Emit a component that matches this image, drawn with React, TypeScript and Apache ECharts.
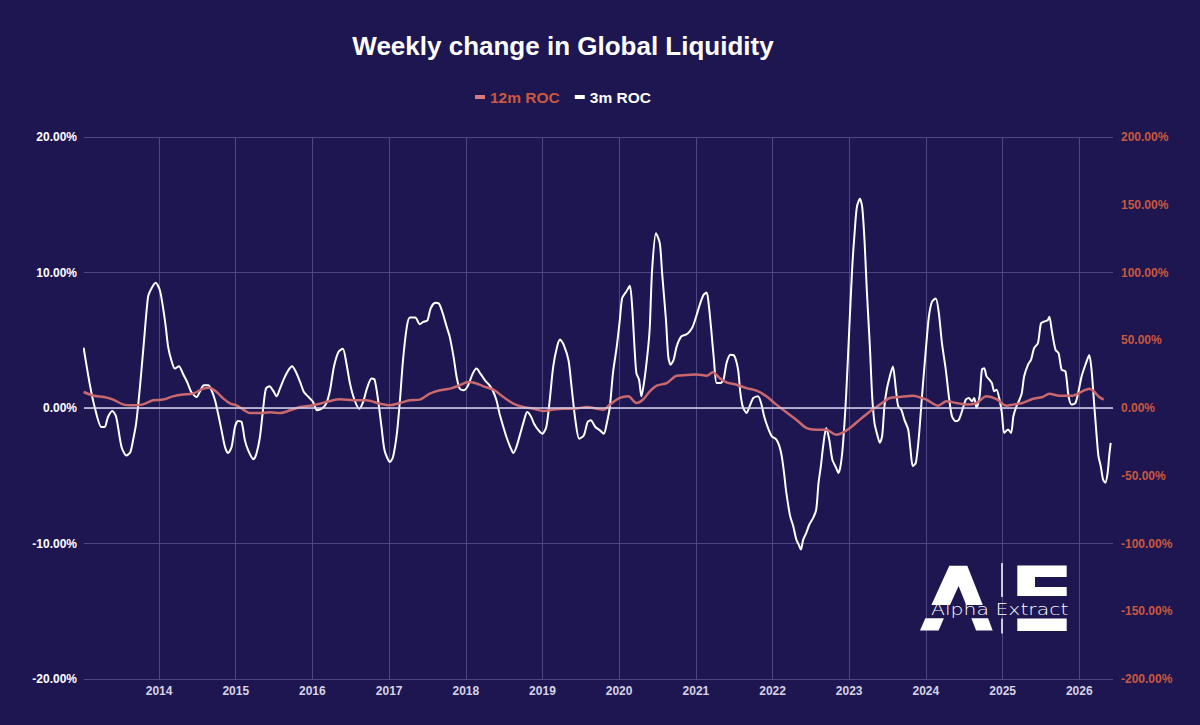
import React, { useEffect, useRef } from "react";
import * as echarts from "echarts";

const TITLE = "Weekly change in Global Liquidity";
const NAME_12M = "12m ROC";
const NAME_3M = "3m ROC";
const LOGO_TEXT = "Alpha Extract";

// x positions as decimal years, values in %
const YEARS_3M = [
  2013.015, 2013.094, 2013.159, 2013.246, 2013.29, 2013.333, 2013.39, 2013.44, 2013.51, 2013.573,
  2013.625, 2013.66, 2013.7, 2013.75, 2013.8, 2013.856, 2013.9, 2013.956, 2014.01, 2014.05,
  2014.087, 2014.118, 2014.16, 2014.205, 2014.26, 2014.31, 2014.366, 2014.42, 2014.49, 2014.53,
  2014.584, 2014.64, 2014.684, 2014.73, 2014.77, 2014.815, 2014.86, 2014.9, 2014.946, 2014.99,
  2015.03, 2015.076, 2015.12, 2015.163, 2015.23, 2015.27, 2015.316, 2015.36, 2015.394, 2015.44,
  2015.49, 2015.534, 2015.577, 2015.63, 2015.686, 2015.735, 2015.786, 2015.84, 2015.89, 2015.95,
  2016.01, 2016.06, 2016.12, 2016.18, 2016.23, 2016.28, 2016.34, 2016.397, 2016.44, 2016.49,
  2016.55, 2016.61, 2016.66, 2016.71, 2016.77, 2016.81, 2016.856, 2016.9, 2016.94, 2017.01,
  2017.05, 2017.1, 2017.14, 2017.18, 2017.23, 2017.27, 2017.34, 2017.4, 2017.444, 2017.5,
  2017.54, 2017.6, 2017.65, 2017.7, 2017.75, 2017.79, 2017.84, 2017.88, 2017.92, 2017.976,
  2018.03, 2018.09, 2018.14, 2018.19, 2018.25, 2018.31, 2018.35, 2018.4, 2018.44, 2018.49,
  2018.53, 2018.58, 2018.62, 2018.66, 2018.71, 2018.76, 2018.8, 2018.85, 2018.89, 2018.95,
  2019.0, 2019.05, 2019.09, 2019.14, 2019.19, 2019.23, 2019.28, 2019.34, 2019.38, 2019.43,
  2019.48, 2019.54, 2019.59, 2019.63, 2019.69, 2019.75, 2019.8, 2019.84, 2019.88, 2019.92,
  2019.97, 2020.01, 2020.04, 2020.095, 2020.14, 2020.17, 2020.2, 2020.225, 2020.26, 2020.29,
  2020.33, 2020.38, 2020.4, 2020.43, 2020.48, 2020.53, 2020.56, 2020.61, 2020.64, 2020.67,
  2020.71, 2020.75, 2020.81, 2020.87, 2020.92, 2020.96, 2021.01, 2021.05, 2021.1, 2021.14,
  2021.17, 2021.2, 2021.235, 2021.27, 2021.32, 2021.36, 2021.4, 2021.45, 2021.5, 2021.55,
  2021.58, 2021.61, 2021.66, 2021.7, 2021.75, 2021.81, 2021.85, 2021.89, 2021.94, 2021.99,
  2022.05, 2022.09, 2022.12, 2022.15, 2022.18, 2022.23, 2022.27, 2022.31, 2022.34, 2022.37,
  2022.4, 2022.44, 2022.48, 2022.53, 2022.57, 2022.6, 2022.63, 2022.66, 2022.7, 2022.74,
  2022.78, 2022.83, 2022.86, 2022.89, 2022.92, 2022.96, 2023.0, 2023.04, 2023.07, 2023.1,
  2023.14, 2023.17, 2023.2, 2023.23, 2023.27, 2023.3, 2023.33, 2023.36, 2023.4, 2023.43,
  2023.46, 2023.49, 2023.53, 2023.57, 2023.61, 2023.64, 2023.68, 2023.72, 2023.77, 2023.8,
  2023.83, 2023.87, 2023.91, 2023.95, 2024.0, 2024.04, 2024.08, 2024.13, 2024.17, 2024.21,
  2024.26, 2024.3, 2024.34, 2024.39, 2024.43, 2024.47, 2024.52, 2024.56, 2024.6, 2024.63,
  2024.66, 2024.7, 2024.73, 2024.76, 2024.79, 2024.83, 2024.86, 2024.89, 2024.92, 2024.96,
  2024.99, 2025.02, 2025.07, 2025.11, 2025.14, 2025.18, 2025.22, 2025.25, 2025.28, 2025.33,
  2025.37, 2025.41, 2025.46, 2025.5, 2025.54, 2025.59, 2025.61, 2025.64, 2025.69, 2025.73,
  2025.77, 2025.82, 2025.86, 2025.9, 2025.95, 2025.99, 2026.03, 2026.08, 2026.13, 2026.16,
  2026.19, 2026.22, 2026.25, 2026.28, 2026.31, 2026.34, 2026.37, 2026.39, 2026.41,
];
const ROC_3M = [
  4.46, 1.8, 0.07, -1.4, -1.4, -0.66, -0.22, -0.66, -2.88, -3.5,
  -3.25, -2.39, -1.16, 1.55, 4.75, 8.2, 8.82, 9.24, 8.69, 7.46,
  5.99, 4.51, 3.52, 2.91, 3.08, 2.54, 1.92, 1.18, 0.81, 1.18,
  1.67, 1.67, 1.31, 0.57, -0.42, -1.65, -2.88, -3.33, -2.88, -1.4,
  -0.96, -1.03, -2.39, -3.13, -3.79, -3.37, -2.14, 0.07, 1.43, 1.6,
  1.26, 0.86, 1.43, 2.17, 2.78, 3.08, 2.66, 1.92, 1.18, 0.81,
  0.44, -0.17, -0.05, 0.32, 1.31, 3.03, 4.14, 4.38, 3.4, 1.8,
  0.57, -0.05, 0.44, 1.43, 2.17, 2.09, 0.57, -1.4, -3.13, -3.99,
  -3.62, -1.9, 0.57, 3.52, 5.99, 6.67, 6.67, 6.18, 6.35, 6.48,
  7.34, 7.76, 7.71, 6.97, 5.99, 5.25, 3.77, 2.29, 1.43, 1.31,
  1.67, 2.54, 2.91, 2.54, 2.04, 1.67, 1.31, 0.57, -0.42, -1.4,
  -2.14, -2.88, -3.33, -2.88, -1.9, -0.91, -0.3, -0.62, -1.16, -1.65,
  -1.9, -1.4, 0.32, 3.03, 4.51, 5.05, 4.63, 3.52, 1.55, -0.91,
  -2.27, -2.02, -1.03, -0.91, -1.4, -1.65, -1.9, -1.11, 0.12, 2.58,
  4.55, 6.51, 8.11, 8.6, 9.02, 7.49, 4.55, 2.58, 2.09, 0.86,
  2.09, 4.55, 6.02, 10.2, 12.9, 12.16, 9.95, 6.51, 3.81, 3.19,
  3.56, 4.55, 5.28, 5.41, 5.65, 6.02, 6.88, 7.62, 8.35, 8.53,
  7.49, 5.77, 3.56, 1.84, 1.84, 2.09, 3.32, 3.93, 3.86, 2.83,
  1.11, 0.12, -0.37, 0.12, 0.74, 0.86, 0.37, -0.61, -1.47, -2.09,
  -2.33, -2.83, -3.56, -4.79, -6.27, -7.99, -8.72, -9.71, -10.07, -10.44,
  -9.71, -9.21, -8.6, -8.11, -7.49, -5.53, -4.3, -2.83, -1.47, -2.33,
  -3.81, -4.42, -4.79, -4.18, -2.6, 0.9, 5.7, 10.4, 12.87, 14.83,
  15.44, 14.83, 12.38, 8.7, 4.53, 0.86, -1.1, -1.84, -2.57, -2.08,
  0.12, 1.35, 2.33, 3.06, 1.35, 0.12, -0.12, -0.86, -1.59, -3.06,
  -4.29, -4.04, -2.08, 0.86, 4.29, 6.74, 7.84, 8.09, 6.99, 4.78,
  2.82, 0.86, -0.61, -0.98, -0.86, -0.25, 0.61, 0.74, 0.49, 0.74,
  0.0, 0.86, 2.82, 2.94, 2.33, 2.08, 1.84, 1.23, 1.35, 0.61,
  -0.37, -1.84, -1.59, -1.84, -0.61, 0.12, 0.61, 1.1, 2.33, 3.19,
  3.55, 4.41, 4.78, 6.25, 6.37, 6.5, 6.74, 5.76, 4.29, 4.04,
  2.82, 2.7, 0.86, 0.25, 0.37, 1.23, 2.33, 3.19, 3.92, 2.82,
  0.61, -1.59, -3.55, -4.29, -5.27, -5.51, -4.78, -3.55, -2.57,
];

const YEARS_12M = [
  2013.015, 2013.15, 2013.28, 2013.4, 2013.53, 2013.66, 2013.79, 2013.92, 2014.05, 2014.18,
  2014.31, 2014.44, 2014.575, 2014.66, 2014.75, 2014.84, 2014.93, 2015.01, 2015.1, 2015.18,
  2015.32, 2015.45, 2015.58, 2015.71, 2015.84, 2015.97, 2016.1, 2016.23, 2016.36, 2016.53,
  2016.7, 2016.88, 2017.01, 2017.14, 2017.27, 2017.4, 2017.53, 2017.66, 2017.79, 2017.92,
  2018.03, 2018.12, 2018.23, 2018.36, 2018.49, 2018.62, 2018.75, 2018.88, 2019.01, 2019.14,
  2019.27, 2019.41, 2019.58, 2019.71, 2019.8, 2019.88, 2020.01, 2020.12, 2020.225, 2020.31,
  2020.4, 2020.49, 2020.62, 2020.75, 2020.88, 2021.01, 2021.14, 2021.22, 2021.31, 2021.4,
  2021.53, 2021.66, 2021.79, 2021.92, 2022.05, 2022.18, 2022.31, 2022.44, 2022.57, 2022.7,
  2022.83, 2022.91, 2023.01, 2023.14, 2023.27, 2023.4, 2023.53, 2023.66, 2023.83, 2024.01,
  2024.16, 2024.27, 2024.4, 2024.53, 2024.66, 2024.79, 2024.92, 2025.05, 2025.13, 2025.26,
  2025.39, 2025.52, 2025.61, 2025.74, 2025.91, 2026.04, 2026.13, 2026.19, 2026.26, 2026.32,
];
const ROC_12M = [
  11.8, 9.0, 8.1, 6.2, 2.7, 2.0, 2.7, 5.7, 6.2, 8.6,
  10.0, 10.6, 14.3, 15.0, 11.8, 6.9, 3.2, 2.0, -1.2, -3.7,
  -3.7, -3.2, -3.7, -1.7, 0.7, 1.7, 3.2, 5.2, 6.4, 5.7,
  5.7, 3.2, 2.0, 3.7, 5.7, 6.2, 10.6, 13.1, 14.3, 16.7,
  19.2, 18.5, 16.0, 13.5, 8.1, 3.2, 0.7, -0.5, -2.2, -1.2,
  -0.5, -0.5, 0.7, -0.5, -1.2, 2.5, 7.4, 8.6, 3.7, 6.1,
  12.3, 16.5, 18.4, 23.8, 24.3, 24.8, 23.8, 26.3, 22.1, 18.9,
  17.2, 14.7, 12.8, 8.6, 2.5, -3.2, -8.6, -14.7, -16.0, -16.0,
  -19.7, -18.4, -14.7, -8.6, -2.5, 2.5, 7.4, 8.1, 9.1, 6.1,
  1.7, 4.9, 3.7, 2.5, 3.7, 8.6, 6.6, 1.7, 2.5, 3.7,
  6.6, 8.1, 10.5, 9.1, 9.1, 12.3, 14.2, 12.3, 8.1, 6.1,
];

const X_MIN_YEAR = 2013.02;
const X_MAX_YEAR = 2026.44;

const BG = "#1e1650";
const GRID = "#4d4884";
const RED_LINE = "#c9686d";
const RED_TEXT = "#c9583f";
const XLABEL = "#d6d3e6";
const FONT = "'Liberation Sans', Arial, Helvetica, sans-serif";

function yearToTime(y: number): number {
  const yr = Math.floor(y);
  const start = Date.UTC(yr, 0, 1);
  const end = Date.UTC(yr + 1, 0, 1);
  return start + (y - yr) * (end - start);
}

function logoGraphics(): any[] {
  const white = { fill: "#ffffff" };
  return [
    {
      type: "polygon",
      z: 100,
      shape: {
        points: [
          [949.3, 565.7], [967.3, 565.7], [982.8, 605], [966.2, 605],
          [958.6, 586], [950.0, 605], [931.4, 605],
        ],
      },
      style: white,
    },
    {
      type: "polygon",
      z: 100,
      shape: { points: [[925.3, 618.3], [943.9, 618.3], [938.6, 630.5], [920, 630.5]] },
      style: white,
    },
    {
      type: "polygon",
      z: 100,
      shape: { points: [[971.4, 618.3], [988.1, 618.3], [992.7, 630.5], [976.1, 630.5]] },
      style: white,
    },
    {
      type: "line",
      z: 100,
      shape: { x1: 1002, y1: 563, x2: 1002, y2: 597 },
      style: { stroke: "#ffffff", lineWidth: 1.5 },
    },
    {
      type: "line",
      z: 100,
      shape: { x1: 1002, y1: 618.5, x2: 1002, y2: 633.5 },
      style: { stroke: "#ffffff", lineWidth: 1.5 },
    },
    {
      type: "polygon",
      z: 100,
      shape: {
        points: [
          [1017.3, 565.5], [1066.7, 565.5], [1066.7, 577], [1035, 577],
          [1035, 587], [1066.7, 587], [1066.7, 596], [1017.3, 596],
        ],
      },
      style: white,
    },
    {
      type: "rect",
      z: 100,
      shape: { x: 1017.3, y: 618.5, width: 49.4, height: 12.5 },
      style: white,
    },
    {
      type: "text",
      z: 101,
      x: 931,
      y: 610,
      scaleX: 1.36,
      style: {
        text: LOGO_TEXT,
        fill: "#ffffff",
        font: "300 15px 'DejaVu Sans', sans-serif",
        verticalAlign: "middle",
        align: "left",
      },
    },
  ];
}

export default function App() {
  const ref = useRef<HTMLDivElement>(null);

  useEffect(() => {
    document.body.style.margin = "0";
    document.body.style.background = BG;
    if (!ref.current) return;
    const chart = echarts.init(ref.current, null, { renderer: "svg" });

    const data3m = YEARS_3M.map((y, i) => [yearToTime(y), ROC_3M[i]]);
    const data12m = YEARS_12M.map((y, i) => [yearToTime(y), ROC_12M[i]]);

    const option: any = {
      animation: false,
      backgroundColor: BG,
      useUTC: true,
      title: {
        text: TITLE,
        left: 563,
        textAlign: "center",
        top: 33,
        padding: 0,
        textStyle: { color: "#ffffff", fontSize: 26, fontWeight: "bold", fontFamily: FONT },
      },
      legend: {
        left: 475,
        top: 89,
        padding: 0,
        icon: "rect",
        itemWidth: 10,
        itemHeight: 4,
        itemGap: 15,
        textStyle: { fontSize: 15.5, fontWeight: "bold", fontFamily: FONT },
        data: [
          { name: NAME_12M, textStyle: { color: RED_TEXT }, itemStyle: { color: "#d97b7f" } },
          { name: NAME_3M, textStyle: { color: "#ffffff" } },
        ],
      },
      grid: { left: 84, right: 87, top: 137, bottom: 46, containLabel: false },
      xAxis: {
        type: "time",
        min: yearToTime(X_MIN_YEAR),
        max: yearToTime(X_MAX_YEAR),
        minInterval: 365 * 24 * 3600 * 1000,
        maxInterval: 366 * 24 * 3600 * 1000,
        axisLine: { show: true, lineStyle: { color: GRID, width: 1 } },
        axisTick: { show: false },
        axisLabel: {
          formatter: "{yyyy}",
          color: XLABEL,
          fontSize: 12,
          fontWeight: "bold",
          fontFamily: FONT,
          margin: 6,
          showMinLabel: false,
          showMaxLabel: false,
        },
        splitLine: { show: true, showMinLine: false, showMaxLine: false, lineStyle: { color: GRID, width: 1 } },
      },
      yAxis: [
        {
          type: "value",
          position: "left",
          min: -20,
          max: 20,
          interval: 10,
          axisLine: { show: false },
          axisTick: { show: false },
          axisLabel: {
            formatter: (v: number) => v.toFixed(2) + "%",
            color: "#ffffff",
            fontSize: 12,
            fontWeight: "bold",
            fontFamily: FONT,
            margin: 7,
          },
          splitLine: { show: true, lineStyle: { color: GRID, width: 1 } },
        },
        {
          type: "value",
          position: "right",
          min: -200,
          max: 200,
          interval: 50,
          axisLine: { show: false },
          axisTick: { show: false },
          axisLabel: {
            formatter: (v: number) => v.toFixed(2) + "%",
            color: RED_TEXT,
            fontSize: 12,
            fontWeight: "bold",
            fontFamily: FONT,
            margin: 8,
          },
          splitLine: { show: false },
        },
      ],
      series: [
        {
          name: NAME_12M,
          type: "line",
          yAxisIndex: 1,
          data: data12m,
          showSymbol: false,
          smooth: 0.3,
          z: 4,
          lineStyle: { color: RED_LINE, width: 2.5 },
          itemStyle: { color: RED_LINE },
        },
        {
          name: NAME_3M,
          type: "line",
          yAxisIndex: 0,
          data: data3m,
          showSymbol: false,
          smooth: 0.25,
          z: 3,
          lineStyle: { color: "#ffffff", width: 2 },
          itemStyle: { color: "#ffffff" },
          markLine: {
            silent: true,
            symbol: "none",
            label: { show: false },
            lineStyle: { color: "#d9d5ee", width: 1.5, type: "solid" },
            data: [{ yAxis: 0 }],
          },
        },
      ],
      graphic: logoGraphics(),
    };

    chart.setOption(option);
    return () => chart.dispose();
  }, []);

  return (
    <div
      ref={ref}
      style={{ position: "fixed", left: 0, top: 0, width: 1200, height: 725 }}
    />
  );
}
